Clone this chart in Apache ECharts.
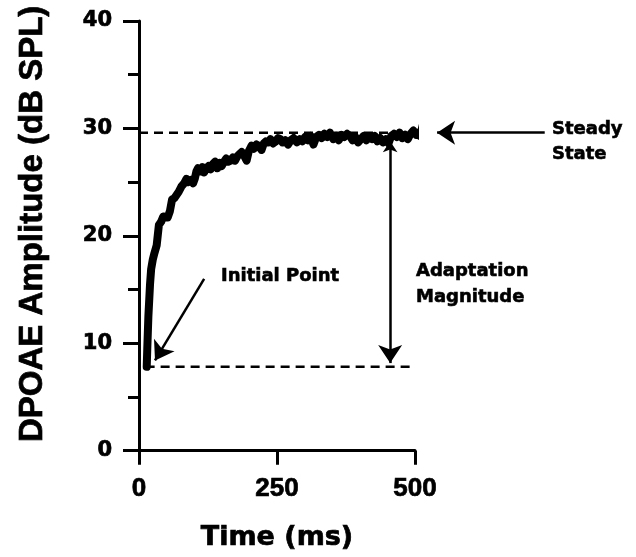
<!DOCTYPE html>
<html>
<head>
<meta charset="utf-8">
<script src="https://cdn.jsdelivr.net/npm/echarts@6/dist/echarts.min.js"></script>
<style>
  html, body { margin: 0; padding: 0; background: #fff; }
  #chart { width: 636px; height: 557px; }
</style>
</head>
<body>
<div id="chart"></div>
<script>
var chart = echarts.init(document.getElementById('chart'));

// time (ms) and DPOAE amplitude (dB SPL)
const times = [14,15,17,20,22,25,28,32,36,40,44,47,52,56,60,64,68,72,77,82,86,89,94,98,101,104,107,111,115,118,
  122,126,130,134,138,142,146,150,154,158,162,166,170,174,178,182,186,190,195,199,204,208,213,218,222,226,230,234,238,243,
  248,252,256,260,265,270,275,280,286,291,296,301,306,311,316,321,326,331,336,341,346,352,357,362,367,372,377,382,387,392,
  397,402,407,412,417,422,427,432,437,442,447,452,457,462,467,472,477,482,487,492,497,502,506,509,512,515];
const amplitude = [7.8,9.5,12.5,15.5,16.9,17.8,18.4,19.1,21.0,21.3,21.8,21.9,21.7,22.3,23.4,23.5,23.8,24.1,24.6,24.9,25.3,25.0,25.2,24.9,25.3,26.0,26.3,26.0,26.4,25.9,
  26.3,26.5,26.2,26.7,26.9,26.3,26.8,26.5,26.9,27.2,26.9,27.0,27.3,27.0,27.4,27.6,27.8,27.5,27.0,27.9,28.4,28.1,28.5,28.3,28.0,28.6,28.8,28.7,29.0,28.6,
  28.8,29.1,29.0,28.7,28.9,28.5,28.9,29.1,28.7,29.0,28.8,29.2,28.9,29.3,28.5,29.2,29.4,29.1,29.5,29.2,29.6,29.0,29.3,28.9,29.4,29.2,29.5,29.3,28.9,29.2,
  28.7,29.0,29.3,28.9,29.2,29.0,29.3,28.8,29.1,28.7,29.0,28.6,29.3,29.5,29.2,29.6,29.1,29.4,29.0,29.5,29.8,29.4,29.6,29.3,29.9,30.5];

const xTicks = [0, 250, 500];
const yTicks = [0, 10, 20, 30, 40];

// reference levels and annotation arrows (data coordinates)
const steadyLevel = [[0, 29.6], [527, 29.6]];
const initialLevel = [[12, 7.8], [497, 7.8]];
const initialArrow = [[118, 16.0], [29, 8.4]];
const adaptArrow = [[455, 28.8], [455, 8.15]];
const steadyArrow = [[735, 29.6], [540, 29.6]];

var trace = times.map(function (t, i) { return [t, amplitude[i]]; });

var wide = 'DejaVu Sans';
var helv = 'Liberation Sans';

// heavier strokes on the text, like the scanned bold lettering
function heavy(o) {
  o.textBorderColor = '#000';
  o.textBorderWidth = 0.7;
  return o;
}
var noteStyle = { font: 'bold 18px "DejaVu Sans"', fill: '#000', stroke: '#000', lineWidth: 0.6, verticalAlign: 'middle' };
function note(extra) { return Object.assign({}, noteStyle, extra); }

var option = {
  animation: false,
  backgroundColor: '#fff',
  grid: { left: 139, right: 221, top: 21, bottom: 104 },
  xAxis: {
    type: 'value',
    min: xTicks[0],
    max: xTicks[xTicks.length - 1],
    interval: 250,
    name: 'Time (ms)',
    nameLocation: 'middle',
    nameGap: 74,
    nameTextStyle: heavy({ fontFamily: wide, fontWeight: 'bold', fontSize: 27, color: '#000' }),
    axisLine: { lineStyle: { color: '#000', width: 3 } },
    axisTick: { length: 14, lineStyle: { color: '#000', width: 3 } },
    axisLabel: heavy({ margin: 25, fontFamily: helv, fontWeight: 'bold', fontSize: 26, color: '#000' }),
    splitLine: { show: false }
  },
  yAxis: {
    type: 'value',
    min: yTicks[0],
    max: yTicks[yTicks.length - 1],
    interval: 10,
    name: 'DPOAE Amplitude (dB SPL)',
    nameLocation: 'middle',
    nameGap: 90,
    nameTextStyle: heavy({ fontFamily: helv, fontWeight: 'bold', fontSize: 33, color: '#000', padding: [0, 0, 0, 24] }),
    axisLine: { show: true, lineStyle: { color: '#000', width: 3 } },
    axisTick: { show: true, length: 16, lineStyle: { color: '#000', width: 3 } },
    minorTick: { show: true, splitNumber: 2, length: 11, lineStyle: { color: '#000', width: 3 } },
    axisLabel: heavy({ margin: 27, fontFamily: wide, fontWeight: 'bold', fontSize: 21, color: '#000' }),
    splitLine: { show: false }
  },
  graphic: [
    { type: 'text', x: 221, y: 276, style: note({ text: 'Initial Point' }) },
    { type: 'text', x: 416, y: 284, style: note({ text: 'Adaptation\nMagnitude', lineHeight: 26 }) },
    { type: 'text', x: 552, y: 141.5, style: note({ text: 'Steady\nState', lineHeight: 25 }) }
  ],
  series: [
    {
      type: 'line', data: steadyLevel, symbol: 'none', clip: false, silent: true,
      lineStyle: { color: '#000', width: 2.5, type: [9, 6] }
    },
    {
      type: 'line', data: initialLevel, symbol: 'none', clip: false, silent: true,
      lineStyle: { color: '#000', width: 2.5, type: [9, 6] }
    },
    {
      type: 'line', data: trace, symbol: 'none', clip: false,
      lineStyle: { color: '#000', width: 8, join: 'round', cap: 'round' }
    },
    {
      type: 'lines', coordinateSystem: 'cartesian2d', clip: false, silent: true,
      symbol: ['none', 'arrow'], symbolSize: [11, 18],
      lineStyle: { color: '#000', width: 2.5, opacity: 1 },
      data: [{ coords: initialArrow }, { coords: steadyArrow }]
    },
    {
      type: 'lines', coordinateSystem: 'cartesian2d', clip: false, silent: true,
      symbol: ['arrow', 'arrow'], symbolSize: [11, 18],
      lineStyle: { color: '#000', width: 2.5, opacity: 1 },
      data: [{ coords: adaptArrow }]
    }
  ]
};

chart.setOption(option);
</script>
</body>
</html>
